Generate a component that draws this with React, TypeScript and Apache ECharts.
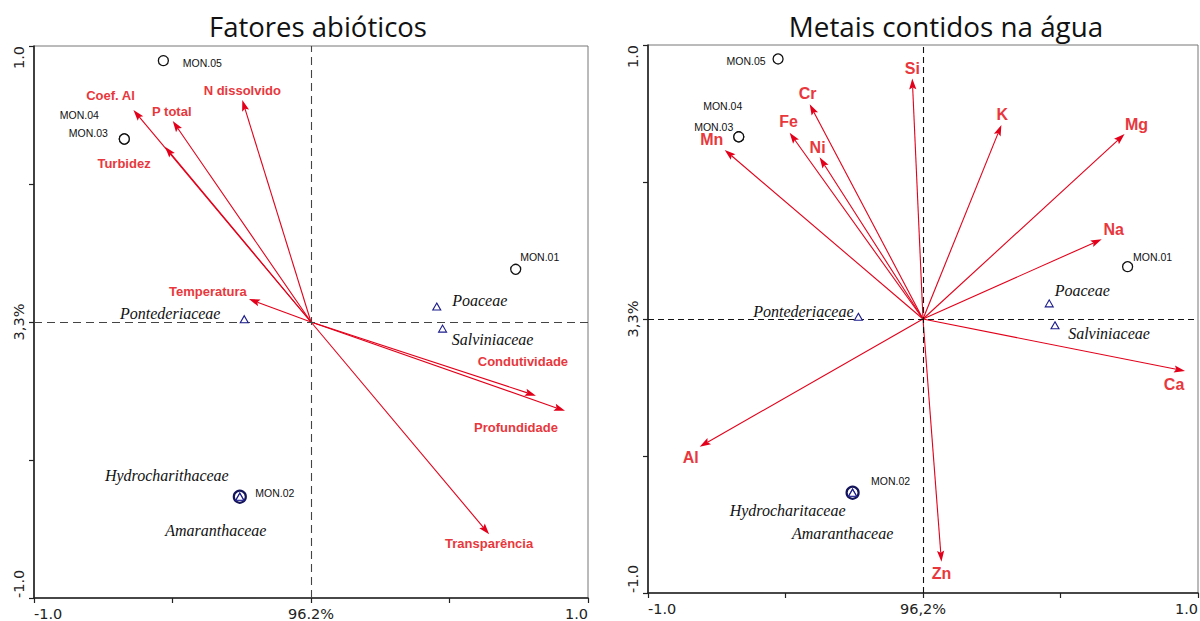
import React, { useEffect, useRef } from "react";
import * as echarts from "echarts";

// ---------- data ----------
const X_TICKS_LEFT = ["-1.0", "", "96.2%", "", "1.0"];
const X_TICKS_RIGHT = ["-1.0", "", "96,2%", "", "1.0"];
const Y_TICKS = ["-1.0", "", "3,3%", "", "1.0"];

const SITE_NAMES = ["MON.01", "MON.02", "MON.03", "MON.04", "MON.05"];

// Fatores abióticos
const LEFT_VECTOR_NAMES = ["Coef. Al", "P total", "N dissolvido", "Turbidez", "Temperatura", "Condutividade", "Profundidade", "Transparência"];
const LEFT_VECTOR_X = [-0.641, -0.499, -0.248, -0.527, -0.224, 0.812, 0.917, 0.643];
const LEFT_VECTOR_Y = [0.768, 0.728, 0.804, 0.635, 0.083, -0.267, -0.322, -0.769];
const LEFT_SITE_X = [0.739, -0.257, -0.674, -0.674, -0.533];
const LEFT_SITE_Y = [0.191, -0.633, 0.663, 0.663, 0.947];
const LEFT_FAMILY_NAMES = ["Pontederiaceae", "Poaceae", "Salviniaceae", "Hydrocharithaceae", "Amaranthaceae"];
const LEFT_FAMILY_X = [-0.241, 0.454, 0.475, -0.257, -0.257];
const LEFT_FAMILY_Y = [0.01, 0.056, -0.024, -0.633, -0.633];

// Metais contidos na água
const RIGHT_VECTOR_NAMES = ["Mn", "Fe", "Ni", "Cr", "Si", "K", "Mg", "Na", "Ca", "Al", "Zn"];
const RIGHT_VECTOR_X = [-0.721, -0.485, -0.376, -0.412, -0.039, 0.285, 0.733, 0.65, 0.953, -0.812, 0.067];
const RIGHT_VECTOR_Y = [0.617, 0.68, 0.59, 0.784, 0.878, 0.708, 0.675, 0.291, -0.19, -0.466, -0.886];
const RIGHT_SITE_X = [0.744, -0.256, -0.67, -0.67, -0.527];
const RIGHT_SITE_Y = [0.191, -0.634, 0.665, 0.665, 0.949];
const RIGHT_FAMILY_NAMES = ["Pontederiaceae", "Poaceae", "Salviniaceae", "Hydrocharitaceae", "Amaranthaceae"];
const RIGHT_FAMILY_X = [-0.235, 0.459, 0.48, -0.256, -0.256];
const RIGHT_FAMILY_Y = [0.008, 0.057, -0.023, -0.634, -0.634];

// ---------- label placement (styling, px offsets of label centre from mark) ----------
const LEFT_VECTOR_LABEL_OFF: Record<string, number[]> = {
  "Coef. Al": [-23, -15], "P total": [-1, -10], "N dissolvido": [0, -10], "Turbidez": [-41, 17],
  "Temperatura": [-41, -8], "Condutividade": [-13, -34], "Profundidade": [-49, 17], "Transparência": [0, 9],
};
const RIGHT_VECTOR_LABEL_OFF: Record<string, number[]> = {
  Mn: [-13, -10], Fe: [-1, -11], Ni: [-2, -10], Cr: [-2, -11], Si: [0, -10], K: [1, -11],
  Mg: [12, -10], Na: [12, -10], Ca: [-11, 13], Al: [-9, 11], Zn: [0, 12],
};
const LEFT_SITE_LABEL_OFF: Record<string, number[]> = {
  "MON.05": [39, 2], "MON.03": [-36, -6], "MON.04": [-45, -24], "MON.01": [24, -12], "MON.02": [35, -4],
};
const RIGHT_SITE_LABEL_OFF: Record<string, number[]> = {
  "MON.05": [-32, 2], "MON.03": [-25, -10], "MON.04": [-16, -31], "MON.01": [25, -10], "MON.02": [38, -12],
};
const LEFT_FAMILY_LABEL_OFF: Record<string, number[]> = {
  Pontederiaceae: [-74, -6], Poaceae: [43, -6], Salviniaceae: [50, 11], Hydrocharithaceae: [-73, -21], Amaranthaceae: [-24, 34],
};
const RIGHT_FAMILY_LABEL_OFF: Record<string, number[]> = {
  Pontederiaceae: [-55, -5], Poaceae: [33, -13], Salviniaceae: [54, 8], Hydrocharitaceae: [-65, 18], Amaranthaceae: [-10, 41],
};

const RED = "#e2001a";
const LABEL_RED = "#e8383d";
const NAVY = "#1c1c8c";

const tickIndex = (v: number) => Math.round((v + 1) / 0.5);

function axesFor(grid: number, xTicks: string[]) {
  const common = {
    type: "value",
    gridIndex: grid,
    min: -1,
    max: 1,
    interval: 0.5,
    splitLine: { show: false },
    axisLine: { show: true, onZero: false, lineStyle: { color: "#222", width: 1.6 } },
    axisTick: { show: true, inside: false, length: 5, lineStyle: { color: "#222", width: 1.2 } },
  };
  const labelBase = {
    show: true,
    showMinLabel: true,
    showMaxLabel: true,
    fontFamily: "DejaVu Sans",
    fontSize: 14.5,
    color: "#222",
    alignMinLabel: "left",
    alignMaxLabel: "right",
  };
  return {
    x: { ...common, position: "bottom", axisLabel: { ...labelBase, margin: 8, formatter: (v: number) => xTicks[tickIndex(v)] ?? "" } },
    y: { ...common, position: "left", axisLabel: { ...labelBase, rotate: 90, margin: 8, formatter: (v: number) => Y_TICKS[tickIndex(v)] ?? "" } },
  };
}

function arrowSeries(grid: number, names: string[], xs: number[], ys: number[], offsets: Record<string, number[]>, fontSize: number) {
  const headLen = 11;
  const headHalf = 3.6;
  return {
    type: "custom",
    coordinateSystem: "cartesian2d",
    xAxisIndex: grid,
    yAxisIndex: grid,
    silent: true,
    clip: false,
    z: 3,
    data: xs.map((x, i) => [x, ys[i]]),
    renderItem: (params: any, api: any) => {
      const i = params.dataIndex;
      const name = names[i];
      const p0 = api.coord([0, 0]);
      const p1 = api.coord([api.value(0), api.value(1)]);
      const dx = p1[0] - p0[0];
      const dy = p1[1] - p0[1];
      const len = Math.hypot(dx, dy) || 1;
      const ux = dx / len, uy = dy / len;
      const bx = p1[0] - ux * headLen, by = p1[1] - uy * headLen;
      const nx = -uy, ny = ux;
      const off = offsets[name] || [0, 0];
      return {
        type: "group",
        children: [
          { type: "line", shape: { x1: p0[0], y1: p0[1], x2: bx + ux * 2, y2: by + uy * 2 }, style: { stroke: RED, lineWidth: 1.1 } },
          {
            type: "polygon",
            shape: { points: [[p1[0], p1[1]], [bx + nx * headHalf, by + ny * headHalf], [bx + ux * 2, by + uy * 2], [bx - nx * headHalf, by - ny * headHalf]] },
            style: { fill: RED },
          },
          {
            type: "text",
            x: p1[0] + off[0],
            y: p1[1] + off[1],
            style: { text: name, fill: LABEL_RED, fontSize, fontWeight: "bold", fontFamily: "Liberation Sans", align: "center", verticalAlign: "middle" },
          },
        ],
      };
    },
  };
}

function siteSeries(grid: number, xs: number[], ys: number[], offsets: Record<string, number[]>) {
  return {
    type: "scatter",
    xAxisIndex: grid,
    yAxisIndex: grid,
    silent: true,
    z: 4,
    symbol: "circle",
    symbolSize: 10,
    itemStyle: { color: "#fff", borderColor: "#111", borderWidth: 1.3, opacity: 1 },
    label: { show: true, position: "inside", formatter: "{b}", fontFamily: "Liberation Sans", fontSize: 10.5, color: "#111", align: "center", verticalAlign: "middle" },
    data: SITE_NAMES.map((n, i) => ({
      name: n,
      value: [xs[i], ys[i]],
      label: { offset: offsets[n] || [0, 0] },
      symbolSize: n === "MON.02" ? 12 : 10,
      itemStyle: n === "MON.02" ? { color: "#fff", borderColor: "#14145a", borderWidth: 2.2 } : undefined,
    })),
  };
}

function familySeries(grid: number, names: string[], xs: number[], ys: number[], offsets: Record<string, number[]>) {
  return {
    type: "scatter",
    xAxisIndex: grid,
    yAxisIndex: grid,
    silent: true,
    z: 5,
    symbol: "triangle",
    symbolSize: [8, 7],
    itemStyle: { color: "#fff", borderColor: NAVY, borderWidth: 1.1, opacity: 1 },
    label: { show: true, position: "inside", formatter: "{b}", fontFamily: "Liberation Serif", fontStyle: "italic", fontSize: 16, color: "#111", align: "center", verticalAlign: "middle" },
    data: names.map((n, i) => ({ name: n, value: [xs[i], ys[i]], label: { offset: offsets[n] || [0, 0] } })),
  };
}

function zeroLines(grid: number, dash: number[], color: string) {
  return {
    type: "scatter",
    xAxisIndex: grid,
    yAxisIndex: grid,
    silent: true,
    z: 1,
    data: [],
    markLine: {
      silent: true,
      symbol: "none",
      animation: false,
      label: { show: false },
      lineStyle: { type: dash, color, width: 1.1 },
      data: [{ xAxis: 0 }, { yAxis: 0 }],
    },
  };
}

export default function App() {
  const ref = useRef<HTMLDivElement>(null);
  useEffect(() => {
    if (!ref.current) return;
    const chart = echarts.init(ref.current, null, { renderer: "svg" });
    const a0 = axesFor(0, X_TICKS_LEFT);
    const a1 = axesFor(1, X_TICKS_RIGHT);
    chart.setOption({
      animation: false,
      backgroundColor: "#fff",
      title: [
        { text: "Fatores abióticos", left: 318, top: 12, textAlign: "center", padding: 0, textStyle: { fontFamily: "Open Sans", fontSize: 27.5, fontWeight: "normal", color: "#111" } },
        { text: "Metais contidos na água", left: 946, top: 12, textAlign: "center", padding: 0, textStyle: { fontFamily: "Open Sans", fontSize: 27.8, fontWeight: "normal", color: "#111" } },
      ],
      grid: [
        { left: 34, top: 46, width: 554, height: 552, show: true, borderColor: "#777", borderWidth: 1, backgroundColor: "transparent", containLabel: false, outerBoundsMode: "none" },
        { left: 648, top: 45, width: 550, height: 548, show: true, borderColor: "#777", borderWidth: 1, backgroundColor: "transparent", containLabel: false, outerBoundsMode: "none" },
      ],
      xAxis: [a0.x, a1.x],
      yAxis: [a0.y, a1.y],
      series: [
        zeroLines(0, [8, 5], "#444"),
        zeroLines(1, [6, 4], "#111"),
        arrowSeries(0, LEFT_VECTOR_NAMES, LEFT_VECTOR_X, LEFT_VECTOR_Y, LEFT_VECTOR_LABEL_OFF, 13),
        arrowSeries(1, RIGHT_VECTOR_NAMES, RIGHT_VECTOR_X, RIGHT_VECTOR_Y, RIGHT_VECTOR_LABEL_OFF, 16),
        siteSeries(0, LEFT_SITE_X, LEFT_SITE_Y, LEFT_SITE_LABEL_OFF),
        siteSeries(1, RIGHT_SITE_X, RIGHT_SITE_Y, RIGHT_SITE_LABEL_OFF),
        familySeries(0, LEFT_FAMILY_NAMES, LEFT_FAMILY_X, LEFT_FAMILY_Y, LEFT_FAMILY_LABEL_OFF),
        familySeries(1, RIGHT_FAMILY_NAMES, RIGHT_FAMILY_X, RIGHT_FAMILY_Y, RIGHT_FAMILY_LABEL_OFF),
      ],
    });
    return () => chart.dispose();
  }, []);
  return <div ref={ref} style={{ position: "fixed", left: 0, top: 0, width: 1200, height: 621 }} />;
}
